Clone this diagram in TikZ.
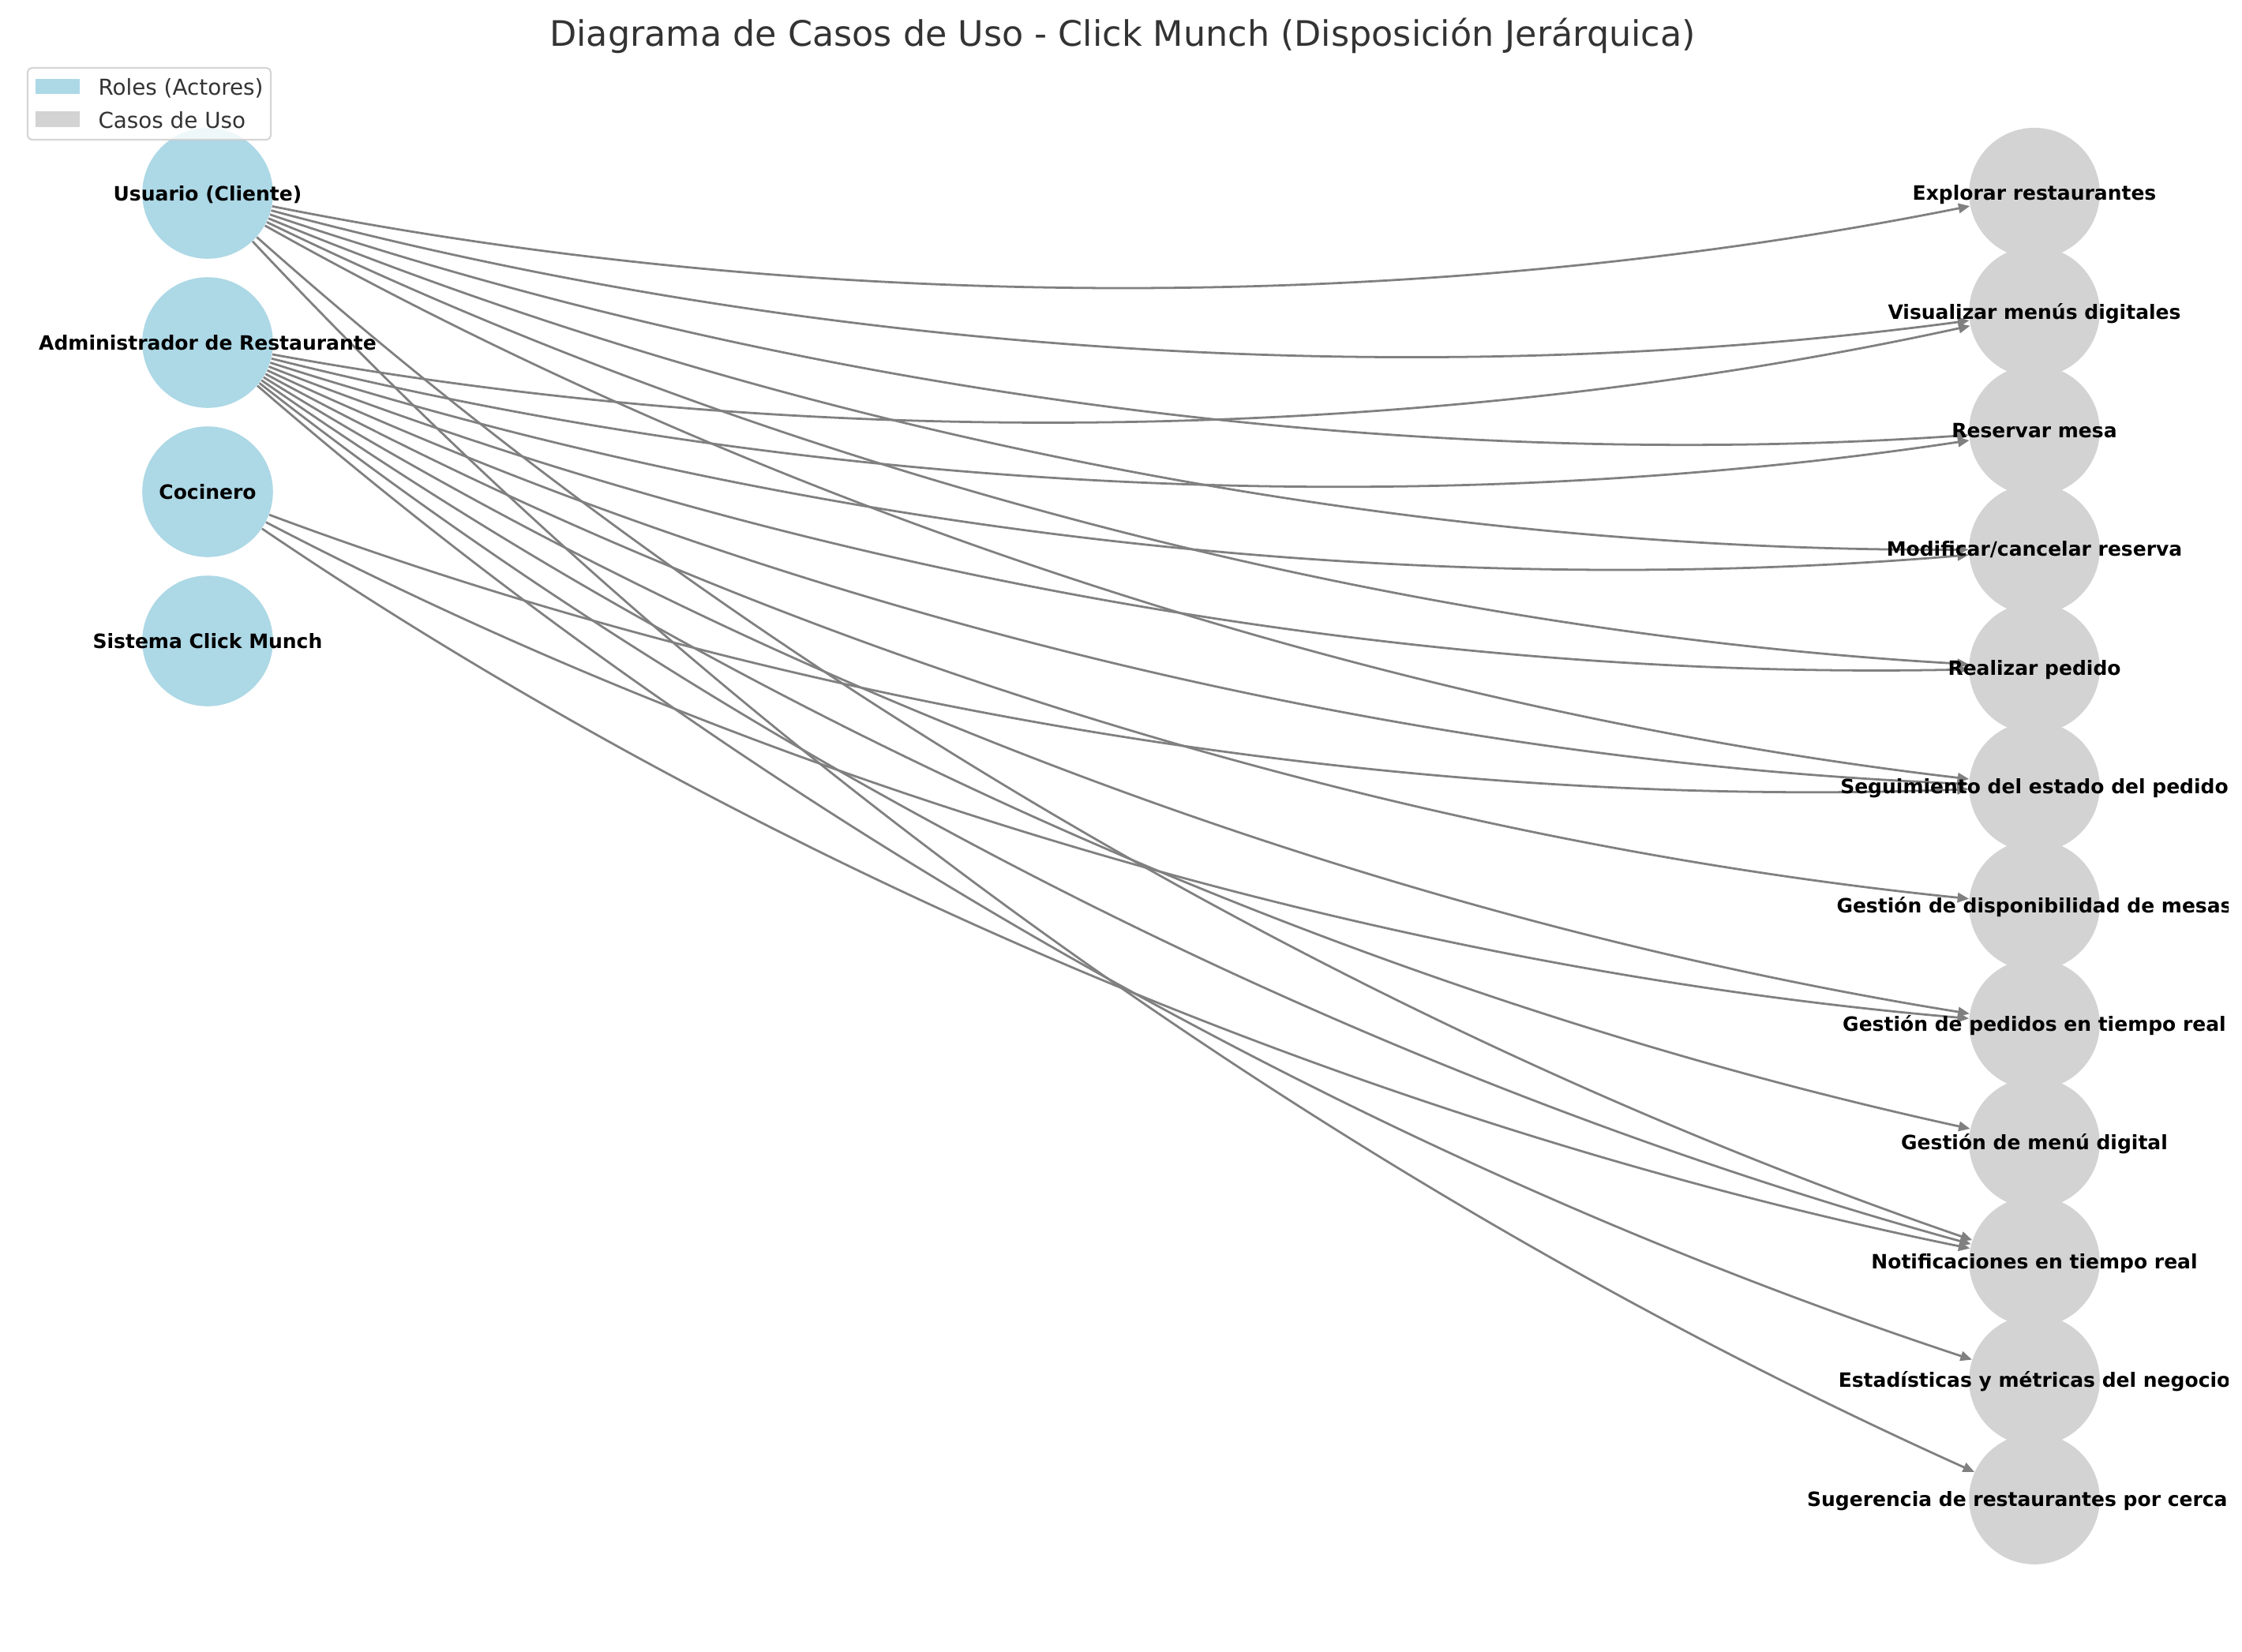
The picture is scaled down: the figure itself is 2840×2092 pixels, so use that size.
\documentclass[tikz,border=0pt]{standalone}
\usepackage{fontspec}
\setmainfont{DejaVu Sans}
\usetikzlibrary{arrows.meta,calc}
\definecolor{actorc}{HTML}{ADD8E6}
\definecolor{casec}{HTML}{D3D3D3}
\definecolor{edgec}{HTML}{808080}
\definecolor{txtc}{HTML}{333333}
\definecolor{legframe}{HTML}{CCCCCC}
\tikzset{
  actor/.style={circle,fill=actorc,draw=none,minimum size=59.6bp,inner sep=0pt},
  ucase/.style={circle,fill=casec,draw=none,minimum size=59.6bp,inner sep=0pt},
  lbl/.style={font=\fontsize{9bp}{11bp}\selectfont\bfseries,anchor=base,inner sep=0pt,text=black},
  legtxt/.style={font=\fontsize{10bp}{12bp}\selectfont,anchor=base west,inner sep=0pt,text=txtc},
  ucedge/.style={draw=edgec,line width=1bp,-{Triangle[length=5.2bp,width=4.4bp]}},
}
\newcommand\ucrel[2]{%
  \draw[ucedge] let \p1=(#1.center), \p2=(#2.center),
    \p3=({(\x1+\x2)/2+0.1*(\y2-\y1)},{(\y1+\y2)/2-0.1*(\x2-\x1)}) in
    (#1) .. controls ({\x1+2/3*(\x3-\x1)},{\y1+2/3*(\y3-\y1)})
             and ({\x2+2/3*(\x3-\x2)},{\y2+2/3*(\y3-\y2)}) .. (#2);}
\begin{document}
\begin{tikzpicture}[x=0.36bp,y=-0.36bp]
\useasboundingbox (0,0) rectangle (2840,2092);
\fill[white] (0,0) rectangle (2840,2092);
\clip (0,0) rectangle (2840,2092);
% actors
\node[actor] (U) at (263,245) {};
\node[actor] (A) at (263,434) {};
\node[actor] (C) at (263,623) {};
\node[actor] (S) at (263,812) {};
% use cases
\node[ucase] (c1) at (2577,244.7) {};
\node[ucase] (c2) at (2577,395.1) {};
\node[ucase] (c3) at (2577,545.5) {};
\node[ucase] (c4) at (2577,695.9) {};
\node[ucase] (c5) at (2577,846.3) {};
\node[ucase] (c6) at (2577,996.7) {};
\node[ucase] (c7) at (2577,1147.1) {};
\node[ucase] (c8) at (2577,1297.5) {};
\node[ucase] (c9) at (2577,1447.9) {};
\node[ucase] (c10) at (2577,1598.3) {};
\node[ucase] (c11) at (2577,1748.7) {};
\node[ucase] (c12) at (2577,1899.1) {};
% edges
\ucrel{U}{c1}\ucrel{U}{c2}\ucrel{U}{c3}\ucrel{U}{c4}\ucrel{U}{c5}\ucrel{U}{c6}\ucrel{U}{c10}\ucrel{U}{c12}
\ucrel{A}{c2}\ucrel{A}{c3}\ucrel{A}{c4}\ucrel{A}{c5}\ucrel{A}{c6}\ucrel{A}{c7}\ucrel{A}{c8}\ucrel{A}{c9}\ucrel{A}{c10}\ucrel{A}{c11}
\ucrel{C}{c6}\ucrel{C}{c8}\ucrel{C}{c10}
% labels
\node[lbl] (tU) at (263,254) {Usuario (Cliente)};
\node[lbl] (tA) at (263,443) {Administrador de Restaurante};
\node[lbl] (tC) at (263,632) {Cocinero};
\node[lbl] (tS) at (263,821) {Sistema Click Munch};
\begin{scope}
\clip (0,0) rectangle (2822,2092);
\node[lbl] (t1) at (2577,253.7) {Explorar restaurantes};
\node[lbl] (t2) at (2577,404.1) {Visualizar menús digitales};
\node[lbl] (t3) at (2577,554.5) {Reservar mesa};
\node[lbl] (t4) at (2577,704.9) {Modificar/cancelar reserva};
\node[lbl] (t5) at (2577,855.3) {Realizar pedido};
\node[lbl] (t6) at (2577,1005.7) {Seguimiento del estado del pedido};
\node[lbl] (t7) at (2577,1156.1) {Gestión de disponibilidad de mesas};
\node[lbl] (t8) at (2577,1306.5) {Gestión de pedidos en tiempo real};
\node[lbl] (t9) at (2577,1456.9) {Gestión de menú digital};
\node[lbl] (t10) at (2577,1607.3) {Notificaciones en tiempo real};
\node[lbl] (t11) at (2577,1757.7) {Estadísticas y métricas del negocio};
\node[lbl] (t12) at (2577,1908.1) {Sugerencia de restaurantes por cercanía};
\end{scope}
% legend
\draw[legframe,fill=white,fill opacity=0.8,draw opacity=0.8,rounded corners=2bp,line width=0.8bp] (35,86) rectangle (343,177);
\fill[actorc] (45,100) rectangle (101,119);
\fill[casec] (45,141) rectangle (101,161);
\node[legtxt] (legA) at (124,120) {Roles (Actores)};
\node[legtxt] (legC) at (124,162) {Casos de Uso};
% title
\node[font=\fontsize{16bp}{19bp}\selectfont,text=txtc,anchor=base,inner sep=0pt] (title) at (1422,58) {Diagrama de Casos de Uso - Click Munch (Disposición Jerárquica)};
\end{tikzpicture}
\end{document}
